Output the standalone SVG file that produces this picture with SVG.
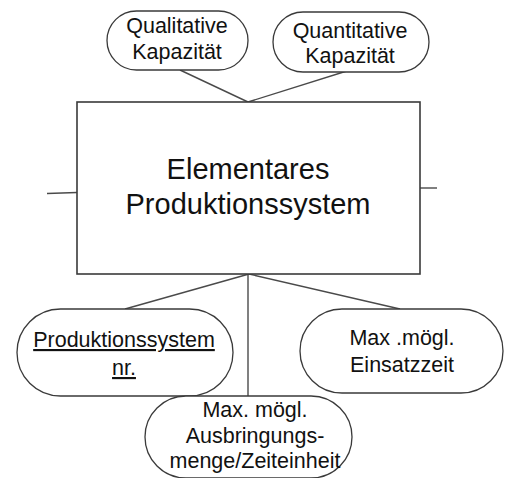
<svg xmlns="http://www.w3.org/2000/svg" width="512" height="478" viewBox="0 0 512 478">
  <style>
    .shape { fill: #ffffff; stroke: #3a3a3a; stroke-width: 1.3; }
    .box { fill: #ffffff; stroke: #3a3a3a; stroke-width: 1.6; }
    .link { fill: none; stroke: #4a4a4a; stroke-width: 1.4; }
    text { font-family: "Liberation Sans", Arial, sans-serif; fill: #111111; text-anchor: middle; }
    .attr { font-size: 21.5px; }
    .title { font-size: 29px; }
    .key { text-decoration: underline; }
  </style>
  <rect width="512" height="478" fill="#ffffff"/>

  <!-- connectors -->
  <g id="connectors">
    <line class="link" x1="180" y1="70" x2="248" y2="102"/>
    <line class="link" x1="350" y1="70" x2="248" y2="102"/>
    <line class="link" x1="249" y1="274" x2="125" y2="309"/>
    <line class="link" x1="249" y1="274" x2="400" y2="309"/>
    <line class="link" x1="248" y1="274" x2="248" y2="396"/>
    <line class="link" x1="47" y1="193.5" x2="77" y2="192.5"/>
    <line class="link" x1="420" y1="188" x2="437" y2="188"/>
  </g>

  <!-- entity -->
  <g id="entity">
    <rect class="box" x="77" y="102" width="343" height="172"/>
    <text class="title" x="248" y="179">Elementares</text>
    <text class="title" x="248" y="214">Produktionssystem</text>
  </g>

  <!-- attributes -->
  <g id="attr-qualitative">
    <rect class="shape" x="107" y="11" width="141" height="59" rx="29.5"/>
    <text class="attr" x="177" y="33">Qualitative</text>
    <text class="attr" x="177" y="59">Kapazität</text>
  </g>

  <g id="attr-quantitative">
    <rect class="shape" x="273" y="12" width="156" height="60" rx="30"/>
    <text class="attr" x="350" y="38">Quantitative</text>
    <text class="attr" x="350" y="63">Kapazität</text>
  </g>

  <g id="attr-nr">
    <rect class="shape" x="17" y="309" width="216" height="87" rx="43.5"/>
    <text class="attr key" x="124" y="347">Produktionssystem</text>
    <text class="attr key" x="124" y="375">nr.</text>
  </g>

  <g id="attr-einsatzzeit">
    <rect class="shape" x="300" y="309" width="203" height="84" rx="42"/>
    <text class="attr" x="402" y="345">Max .mögl.</text>
    <text class="attr" x="402" y="372">Einsatzzeit</text>
  </g>

  <g id="attr-ausbringung">
    <rect class="shape" x="145" y="396" width="207" height="82" rx="41"/>
    <text class="attr" x="255" y="417">Max. mögl.</text>
    <text class="attr" x="255" y="443">Ausbringungs-</text>
    <text class="attr" x="255" y="468">menge/Zeiteinheit</text>
  </g>
</svg>
